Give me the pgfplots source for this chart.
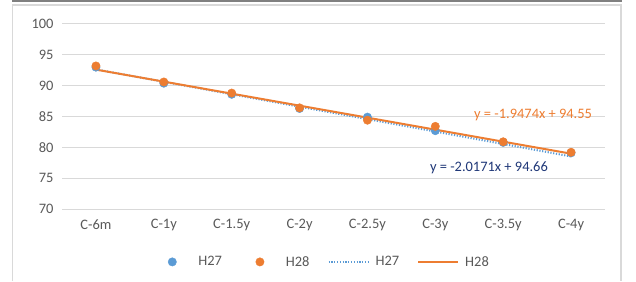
\documentclass[border=0pt]{standalone}
\usepackage{pgfplots}
\pgfplotsset{compat=1.18}
\usepackage{fontspec}
\setmainfont{Carlito}
\definecolor{xblue}{RGB}{91,155,213}
\definecolor{xorange}{RGB}{237,125,49}
\definecolor{xnavy}{RGB}{32,56,120}
\definecolor{xgrid}{RGB}{217,217,217}
\definecolor{xtext}{RGB}{89,89,89}
\pgfplotsset{
  markimg/.style={legend image code/.code={\path[draw=none,fill=none] (0,0)--(40bp,0); \path[draw=none,##1] plot[only marks] coordinates {(20bp,0)};}},
  lineimg/.style={legend image code/.code={\draw[##1] (0,0)--(40bp,0);}},
}
\begin{document}
\begin{tikzpicture}[x=1bp,y=1bp]
\useasboundingbox (0,0) rectangle (636,281);
\draw[xgrid,line width=1.2bp] (12.5,0) -- (12.5,276) -- (621,276) -- (621,0);
\draw[black!50,line width=1.5bp] (12,280.2) -- (622,280.2);
\begin{axis}[
  at={(62bp,72bp)}, anchor=south west,
  scale only axis, width=543bp, height=185bp,
  xmin=-0.5, xmax=7.5, ymin=70, ymax=100,
  ytick={70,75,80,85,90,95,100},
  xtick={0,...,7},
  xticklabels={C-6m,C-1y,C-1.5y,C-2y,C-2.5y,C-3y,C-3.5y,C-4y},
  /pgf/number format/assume math mode=true,
  axis line style={draw=none},
  major tick length=0,
  ymajorgrids, grid style={xgrid,line width=1bp},
  tick label style={font=\fontsize{14.5}{16}\selectfont, text=xtext},
  yticklabel style={xshift=-5bp},
  xticklabel style={yshift=-7bp},
  legend columns=4,
  legend style={draw=none, fill=none, at={(0.478,-0.286)}, anchor=center,
    font=\fontsize{14.5}{16}\selectfont, text=xtext,
    /tikz/every odd column/.append style={column sep=4bp},
    /tikz/every even column/.append style={column sep=16bp}},
  legend cell align=left,
]
\addplot[only marks, mark=*, mark size=4.2bp, color=xblue, markimg]
  coordinates {(0,93.0) (1,90.4) (2,88.6) (3,86.3) (4,84.9) (5,82.7) (6,80.8) (7,79.1)};
\addlegendentry{H27}
\addplot[only marks, mark=*, mark size=4.2bp, color=xorange, markimg]
  coordinates {(0,93.2) (1,90.6) (2,88.8) (3,86.4) (4,84.4) (5,83.4) (6,80.9) (7,79.2)};
\addlegendentry{H28}
\addplot[xblue, line width=2bp, dash pattern=on 1.2bp off 1.6bp, lineimg]
  coordinates {(0,92.643) (7,78.523)};
\addlegendentry{H27}
\addplot[xorange, line width=2bp, lineimg]
  coordinates {(0,92.603) (7,78.971)};
\addlegendentry{H28}
\node[text=xorange, font=\fontsize{14.5}{16}\selectfont] at (axis cs:6.44,85.24) {y = -1.9474x + 94.55};
\node[text=xnavy, font=\fontsize{14.5}{16}\selectfont] at (axis cs:5.79,76.65) {y = -2.0171x + 94.66};
\end{axis}
\end{tikzpicture}
\end{document}
